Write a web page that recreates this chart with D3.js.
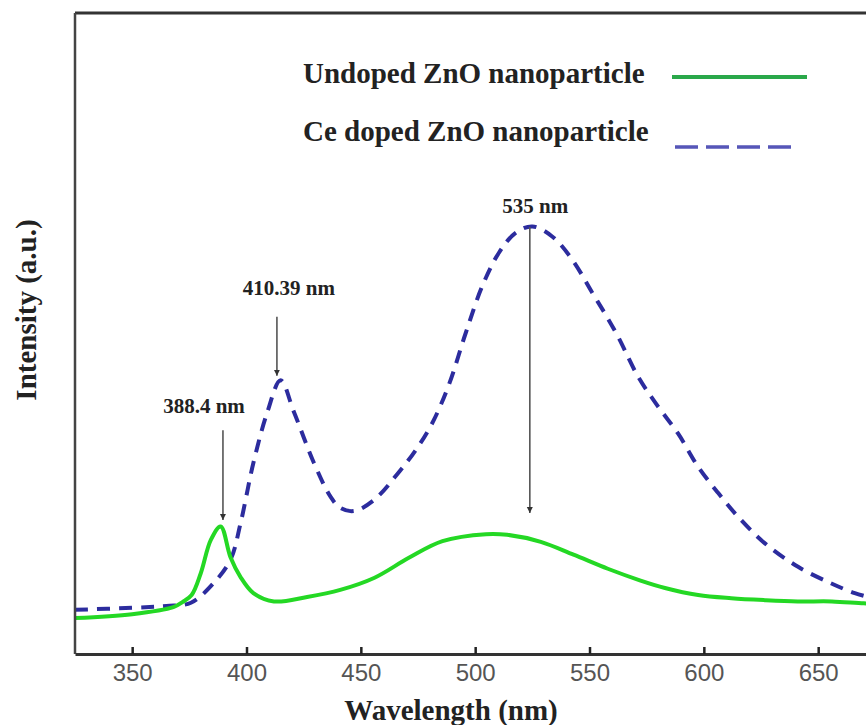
<!DOCTYPE html>
<html>
<head>
<meta charset="utf-8">
<script src="https://cdn.jsdelivr.net/npm/d3@7"></script>
<style>
  html, body { margin: 0; padding: 0; background: #fff; }
  .tick text { font-family: "Liberation Sans", Arial, sans-serif; font-size: 24px; fill: #555; }
  .title { font-family: "Liberation Serif", "Times New Roman", serif; font-weight: bold; fill: #222; }
</style>
</head>
<body>
<svg id="chart" width="866" height="725"></svg>
<script>
// ----------

const X_TICKS = [350, 400, 450, 500, 550, 600, 650];

// undoped ZnO (solid green)
const undopedWavelength = [325, 350, 368, 372, 376, 380, 384.4, 388.7, 393, 397.4, 403, 412, 426.5, 441, 456, 471, 485.7, 504.7, 514, 528.7, 543, 558, 572, 583, 597.5, 612, 626.6, 641, 656, 670, 675];
const undopedIntensity = [5.6, 6.2, 7.3, 8.1, 9.2, 12.6, 17.8, 19.9, 15.1, 12.0, 9.5, 8.2, 8.9, 10.0, 11.9, 15.0, 17.6, 18.7, 18.6, 17.5, 15.5, 13.3, 11.5, 10.3, 9.2, 8.7, 8.4, 8.2, 8.2, 7.9, 7.9];

// Ce doped ZnO (dashed blue)
const ceWavelength = [325, 350, 365, 375.7, 385.7, 393, 397.4, 403, 409, 414.9, 420.7, 429.5, 436.8, 441, 447, 455.7, 466.7, 474, 481.2, 488.5, 495.8, 503, 510.4, 517.7, 525, 533.8, 542.5, 551.3, 556.6, 562.5, 571.2, 580, 588.7, 597.5, 606.3, 615, 626.6, 641.2, 655.8, 666, 675];
const ceIntensity = [6.9, 7.2, 7.5, 8.0, 11.1, 14.7, 20.4, 29.8, 37.6, 42.7, 37.8, 29.8, 24.5, 22.8, 22.3, 24.0, 28.4, 31.8, 36.0, 42.0, 50.0, 57.3, 62.6, 65.7, 66.7, 65.1, 61.5, 56.3, 53.2, 49.5, 43.3, 38.6, 34.4, 29.2, 25.1, 21.4, 17.3, 13.6, 11.0, 9.5, 8.6];

// peak annotations
const peakLabels = ["388.4 nm", "410.39 nm", "535 nm"];
const peakLabelX = [381.4, 418.5, 526.3];
const peakLabelY = [37.6, 56.0, 68.8];
const peakArrowX = [389.7, 413.3, 523.9];
const peakArrowTop = [34.9, 52.6, 66.6];
const peakArrowTip = [20.9, 43.4, 22.0];

const seriesNames = ["Undoped ZnO nanoparticle", "Ce doped ZnO nanoparticle"];

// ----------

const GREEN_LINE = "#24d824";
const BLUE_LINE = "#2c2c9e";

let svg = d3.select("#chart");
let plotLeft = 75, plotTop = 13, plotBottom = 654;

let x = d3.scaleLinear().domain([325, 675]).range([plotLeft, plotLeft + 350 * 2.2867]);
let y = d3.scaleLinear().domain([0, 100]).range([plotBottom, plotTop]);

let defs = svg.append("defs");
defs.append("clipPath").attr("id", "plotClip")
  .append("rect").attr("x", plotLeft).attr("y", plotTop).attr("width", 866 - plotLeft).attr("height", plotBottom - plotTop);
defs.append("marker")
  .attr("id", "arrowHead")
  .attr("viewBox", "0 0 10 10")
  .attr("refX", 10).attr("refY", 5)
  .attr("markerWidth", 6).attr("markerHeight", 7)
  .attr("markerUnits", "userSpaceOnUse")
  .attr("orient", "auto")
  .append("path").attr("d", "M0,0 L10,5 L0,10 z").attr("fill", "#333");

// curves
let line = d3.line()
  .x(function (d) { return x(d[0]); })
  .y(function (d) { return y(d[1]); })
  .curve(d3.curveCatmullRom.alpha(0.5));

let plot = svg.append("g").attr("clip-path", "url(#plotClip)");

plot.append("path")
  .datum(d3.zip(ceWavelength, ceIntensity))
  .attr("d", line)
  .attr("fill", "none")
  .attr("stroke", BLUE_LINE)
  .attr("stroke-width", 4)
  .attr("stroke-dasharray", "13,9");

plot.append("path")
  .datum(d3.zip(undopedWavelength, undopedIntensity))
  .attr("d", line)
  .attr("fill", "none")
  .attr("stroke", GREEN_LINE)
  .attr("stroke-width", 4);

// frame
svg.append("line").attr("x1", plotLeft).attr("x2", 866).attr("y1", plotTop).attr("y2", plotTop)
  .attr("stroke", "#333").attr("stroke-width", 3);
svg.append("line").attr("x1", plotLeft).attr("x2", plotLeft).attr("y1", plotTop).attr("y2", plotBottom)
  .attr("stroke", "#444").attr("stroke-width", 2.5);

let xAxis = svg.append("g")
  .attr("transform", "translate(0," + plotBottom + ")")
  .call(d3.axisBottom(x).tickValues(X_TICKS).tickSize(-7).tickSizeOuter(0).tickPadding(10));
xAxis.select(".domain").attr("stroke", "#333").attr("stroke-width", 3);
xAxis.selectAll(".tick line").attr("stroke", "#222").attr("stroke-width", 2.5);
xAxis.selectAll(".tick text").attr("fill", null);
xAxis.attr("font-family", null).attr("font-size", null);

// axis titles
svg.append("text").attr("class", "title")
  .attr("x", 451).attr("y", 720)
  .attr("text-anchor", "middle")
  .style("font-size", "29px")
  .text("Wavelength (nm)");

svg.append("text").attr("class", "title")
  .attr("transform", "translate(36,310) rotate(-90)")
  .attr("text-anchor", "middle")
  .style("font-size", "29px")
  .text("Intensity (a.u.)");

// peak arrows + labels
peakLabels.forEach(function (label, i) {
  svg.append("line")
    .attr("x1", x(peakArrowX[i])).attr("x2", x(peakArrowX[i]))
    .attr("y1", y(peakArrowTop[i])).attr("y2", y(peakArrowTip[i]))
    .attr("stroke", "#555").attr("stroke-width", 1.6)
    .attr("marker-end", "url(#arrowHead)");
  svg.append("text").attr("class", "title")
    .attr("x", x(peakLabelX[i])).attr("y", y(peakLabelY[i]))
    .attr("text-anchor", "middle")
    .style("font-size", "21px")
    .text(label);
});

// legend
let legend = svg.append("g");
legend.append("text").attr("class", "title")
  .attr("x", 303).attr("y", 83).style("font-size", "29px").text(seriesNames[0]);
legend.append("text").attr("class", "title")
  .attr("x", 303).attr("y", 141).style("font-size", "29px").text(seriesNames[1]);
legend.append("line").attr("x1", 672).attr("x2", 807).attr("y1", 77).attr("y2", 77)
  .attr("stroke", "#2aa84a").attr("stroke-width", 4);
legend.append("line").attr("x1", 675).attr("x2", 793).attr("y1", 147).attr("y2", 147)
  .attr("stroke", "#5656b8").attr("stroke-width", 3.5).attr("stroke-dasharray", "23,8");
</script>
</body>
</html>
